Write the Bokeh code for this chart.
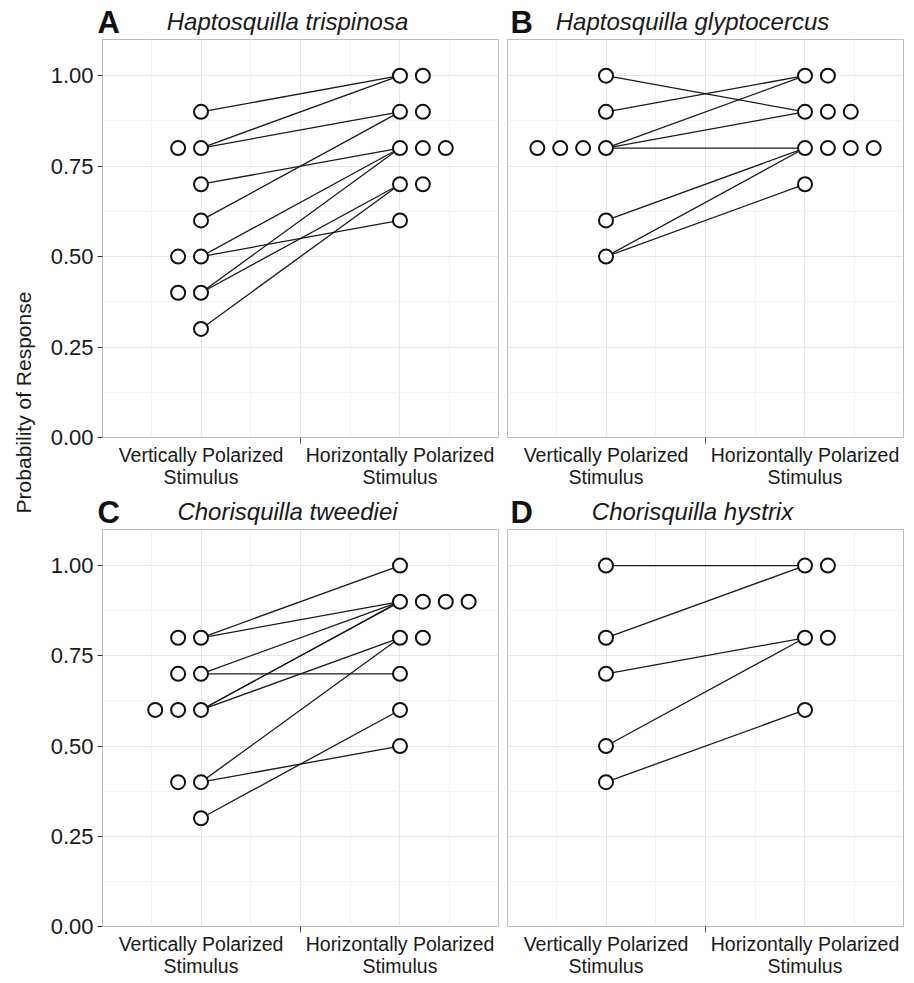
import numpy as np
from bokeh.plotting import figure
from bokeh.models import FixedTicker, NumeralTickFormatter, Range1d, ColumnDataSource
from bokeh.layouts import row, column
from bokeh.embed import file_html
from bokeh.resources import INLINE
from bokeh.core.properties import value

# ---------------- data ----------------
conditions = ["Vertically Polarized\nStimulus", "Horizontally Polarized\nStimulus"]
condition_x = [1, 2]
y_ticks = [0.0, 0.25, 0.5, 0.75, 1.0]
y_label = "Probability of Response"

tags = ["A", "B", "C", "D"]
species = ["Haptosquilla trispinosa", "Haptosquilla glyptocercus",
           "Chorisquilla tweediei", "Chorisquilla hystrix"]

# Panel A
a_vertical = [0.9, 0.8, 0.8, 0.7, 0.6, 0.5, 0.5, 0.4, 0.4, 0.3]
a_horizontal = [1.0, 1.0, 0.9, 0.9, 0.8, 0.8, 0.8, 0.7, 0.7, 0.6]
a_pair_v = [0.9, 0.8, 0.8, 0.7, 0.6, 0.5, 0.5, 0.4, 0.4, 0.3]
a_pair_h = [1.0, 1.0, 0.9, 0.8, 0.9, 0.8, 0.6, 0.8, 0.7, 0.7]

# Panel B
b_vertical = [1.0, 0.9, 0.8, 0.8, 0.8, 0.8, 0.6, 0.5]
b_horizontal = [1.0, 1.0, 0.9, 0.9, 0.9, 0.8, 0.8, 0.8, 0.8, 0.7]
b_pair_v = [1.0, 0.9, 0.8, 0.8, 0.8, 0.6, 0.5, 0.5]
b_pair_h = [0.9, 1.0, 1.0, 0.9, 0.8, 0.8, 0.8, 0.7]

# Panel C
c_vertical = [0.8, 0.8, 0.7, 0.7, 0.6, 0.6, 0.6, 0.4, 0.4, 0.3]
c_horizontal = [1.0, 0.9, 0.9, 0.9, 0.9, 0.8, 0.8, 0.7, 0.6, 0.5]
c_pair_v = [0.8, 0.8, 0.7, 0.7, 0.6, 0.6, 0.6, 0.4, 0.4, 0.3]
c_pair_h = [1.0, 0.9, 0.9, 0.7, 0.9, 0.9, 0.8, 0.8, 0.5, 0.6]

# Panel D
d_vertical = [1.0, 0.8, 0.7, 0.5, 0.4]
d_horizontal = [1.0, 1.0, 0.8, 0.8, 0.6]
d_pair_v = [1.0, 0.8, 0.7, 0.5, 0.4]
d_pair_h = [1.0, 1.0, 0.8, 0.8, 0.6]

panels = [
    (a_vertical, a_horizontal, a_pair_v, a_pair_h),
    (b_vertical, b_horizontal, b_pair_v, b_pair_h),
    (c_vertical, c_horizontal, c_pair_v, c_pair_h),
    (d_vertical, d_horizontal, d_pair_v, d_pair_h),
]

# ---------------- styling ----------------
FONT = "Liberation Sans"
DOT_STEP = 0.115
FRAME_W = 396
X_RANGE = (0.505, 2.495)
Y_RANGE = (0.0, 1.1)
BOTTOM = 55


def stack(vals, base, direction):
    xs, ys, counts = [], [], {}
    for v in vals:
        k = counts.get(v, 0)
        counts[v] = k + 1
        xs.append(base + direction * k * DOT_STEP)
        ys.append(v)
    return xs, ys


def borders(idx):
    show_y = idx % 2 == 0
    return (62, 2) if show_y else (7, 7)


def make_header(idx, height):
    left, right = borders(idx)
    width = left + FRAME_W + right
    h = figure(width=width, height=height, x_range=Range1d(0, width),
               y_range=Range1d(0, height), output_backend="svg",
               toolbar_location=None, min_border=0, title=None,
               x_axis_location=None, y_axis_location=None,
               outline_line_color=None)
    h.xgrid.visible = False
    h.ygrid.visible = False
    tag_dx = -5 if idx % 2 == 0 else 3
    h.text(x=[left + tag_dx], y=[17], text=[tags[idx]], text_font=value(FONT),
           text_font_size="31px", text_font_style="bold", text_color="#111111",
           text_align="left", text_baseline="alphabetic")
    h.text(x=[left + FRAME_W / 2 - 13], y=[18], text=[species[idx]],
           text_font=value(FONT), text_font_size="24px", text_font_style="italic",
           text_color="#1a1a1a", text_align="center", text_baseline="alphabetic")
    return h


def make_panel(idx, frame_h):
    vert, horz, pv, ph = panels[idx]
    show_y = idx % 2 == 0
    left, right = borders(idx)
    p = figure(width=left + FRAME_W + right, height=frame_h + BOTTOM,
               x_range=Range1d(*X_RANGE), y_range=Range1d(*Y_RANGE),
               output_backend="svg", toolbar_location=None, title=None,
               min_border_left=left, min_border_right=right,
               min_border_top=0, min_border_bottom=BOTTOM,
               outline_line_color="#bdbdbd", outline_line_width=1)

    # grid
    p.xgrid.ticker = FixedTicker(ticks=[1, 1.5, 2], minor_ticks=[0.75, 1.25, 1.75, 2.25])
    p.ygrid.ticker = FixedTicker(ticks=y_ticks, minor_ticks=[0.125, 0.375, 0.625, 0.875])
    for g in (p.xgrid, p.ygrid):
        g.grid_line_color = "#e6e6e6"
        g.grid_line_width = 1
        g.minor_grid_line_color = "#f3f3f3"
        g.minor_grid_line_width = 1

    # x axis
    xa = p.xaxis[0]
    xa.ticker = FixedTicker(ticks=condition_x, minor_ticks=[1.5])
    xa.major_label_overrides = {cx: lab for cx, lab in zip(condition_x, conditions)}
    xa.major_tick_line_color = None
    xa.major_tick_out = 0
    xa.major_tick_in = 0
    xa.minor_tick_line_color = "#555555"
    xa.minor_tick_out = 6
    xa.minor_tick_in = 0
    xa.axis_line_color = None
    xa.major_label_standoff = 0
    xa.major_label_text_font = FONT
    xa.major_label_text_font_size = "19.5px"
    xa.major_label_text_color = "#1a1a1a"
    xa.major_label_text_line_height = 1.0

    # y axis
    ya = p.yaxis[0]
    if show_y:
        ya.ticker = FixedTicker(ticks=y_ticks, minor_ticks=[])
        ya.formatter = NumeralTickFormatter(format="0.00")
        ya.axis_line_color = None
        ya.major_tick_line_color = "#333333"
        ya.major_tick_out = 5
        ya.major_tick_in = 0
        ya.minor_tick_line_color = None
        ya.major_label_standoff = 4
        ya.major_label_text_font = FONT
        ya.major_label_text_font_size = "22px"
        ya.major_label_text_color = "#1a1a1a"
    else:
        ya.visible = False

    # connecting lines
    seg = ColumnDataSource(dict(x0=[condition_x[0]] * len(pv), y0=pv,
                                x1=[condition_x[1]] * len(ph), y1=ph))
    p.segment(x0="x0", y0="y0", x1="x1", y1="y1", source=seg,
              line_color="#1a1a1a", line_width=1.3)

    # stacked dots
    vx, vy = stack(vert, condition_x[0], -1)
    hx, hy = stack(horz, condition_x[1], +1)
    dots = ColumnDataSource(dict(x=vx + hx, y=vy + hy))
    p.scatter(x="x", y="y", source=dots, marker="circle", size=14,
              fill_color="white", line_color="#111111", line_width=2)
    return p


H1, H2 = 39, 37
F1, F2 = 398, 397
hA, hB = make_header(0, H1), make_header(1, H1)
pA, pB = make_panel(0, F1), make_panel(1, F1)
hC, hD = make_header(2, H2), make_header(3, H2)
pC, pD = make_panel(2, F2), make_panel(3, F2)

TOTAL_H = H1 + F1 + BOTTOM + H2 + F2 + BOTTOM
pl = figure(width=40, height=TOTAL_H, x_range=Range1d(0, 40), y_range=Range1d(0, TOTAL_H),
            output_backend="svg", toolbar_location=None, min_border=0, title=None,
            x_axis_location=None, y_axis_location=None, outline_line_color=None)
pl.xgrid.visible = False
pl.ygrid.visible = False
pl.text(x=[23], y=[TOTAL_H - 402], text=[y_label], angle=np.pi / 2,
        text_align="center", text_baseline="middle", text_font=value(FONT),
        text_font_size="21px", text_color="#1a1a1a")

layout = row(pl, column(row(hA, hB), row(pA, pB), row(hC, hD), row(pC, pD)))

open("out.html", "w").write(file_html(layout, INLINE))
